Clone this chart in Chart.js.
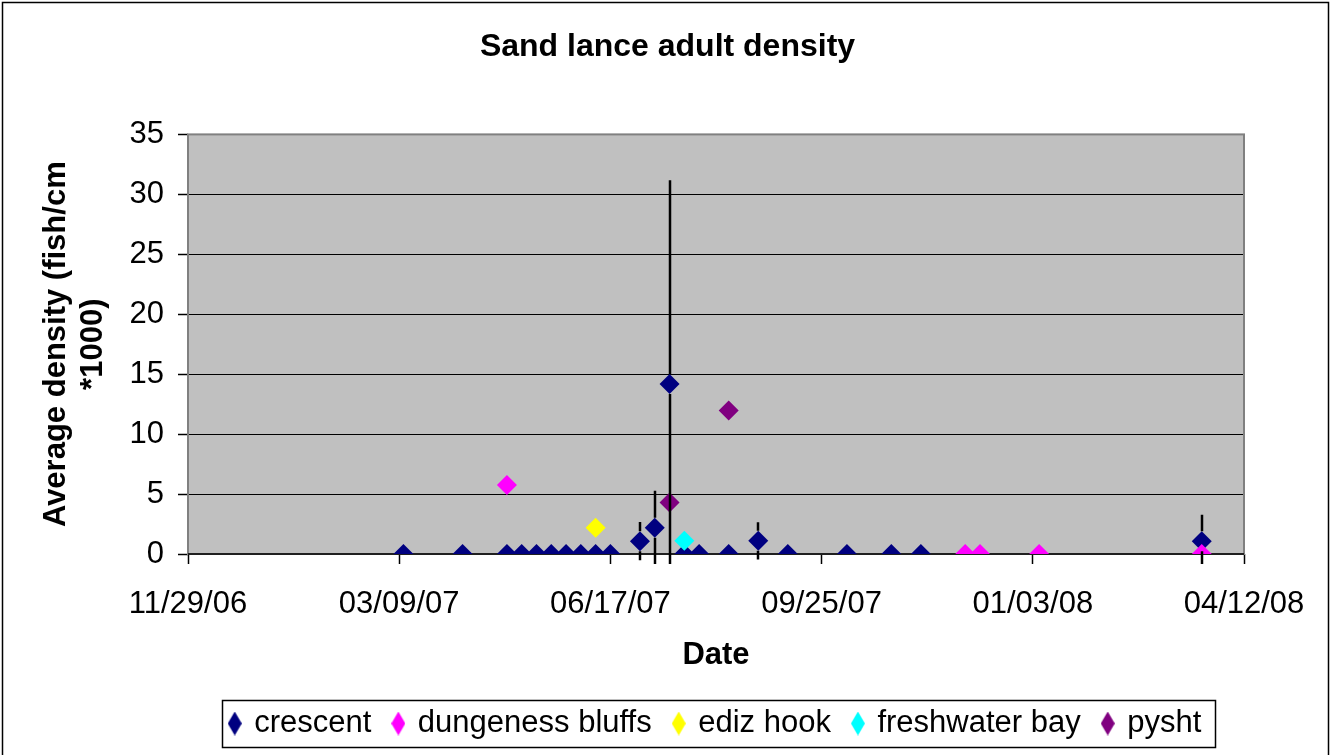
<!DOCTYPE html>
<html>
<head>
<meta charset="utf-8">
<title>Sand lance adult density</title>
<script src="https://cdn.jsdelivr.net/npm/chart.js@4.4.1/dist/chart.umd.min.js"></script>
<style>
    html, body { margin: 0; padding: 0; background: #fff; }
    #wrap { width: 1335px; height: 755px; }
</style>
</head>
<body>
<div id="wrap"><canvas id="myChart" width="1335" height="755"></canvas></div>
<script>
// axis: dates counted in days from the first tick
const startDate = "2006-11-29";
const tickDays = [0, 100, 200, 300, 400, 500];
const yTicks = [0, 5, 10, 15, 20, 25, 30, 35];

const seriesNames = ["crescent", "dungeness bluffs", "ediz hook", "freshwater bay", "pysht"];
const seriesColors = ["#000080", "#ff00ff", "#ffff00", "#00ffff", "#800080"];

const crescentDates = [
    "2007-03-11", "2007-04-08", "2007-04-29", "2007-05-06", "2007-05-13", "2007-05-20",
    "2007-05-27", "2007-06-03", "2007-06-10", "2007-06-17", "2007-07-01", "2007-07-08",
    "2007-07-15", "2007-07-22", "2007-07-29", "2007-08-12", "2007-08-26", "2007-09-09",
    "2007-10-07", "2007-10-28", "2007-11-11", "2008-03-23"
];
const crescentValues = [0, 0, 0, 0, 0, 0, 0, 0, 0, 0, 1.07, 2.18, 14.17, 0, 0, 0, 1.1, 0, 0, 0, 0, 1.07];
const crescentErrors = [0, 0, 0, 0, 0, 0, 0, 0, 0, 0, 1.6, 3.1, 17, 0, 0, 0, 1.55, 0, 0, 0, 0, 2.2];

const dungenessDates = ["2007-04-29", "2007-12-02", "2007-12-09", "2008-01-06", "2008-03-23"];
const dungenessValues = [5.75, 0, 0, 0, 0];

const edizDates = ["2007-06-10"];
const edizValues = [2.18];

const freshwaterDates = ["2007-07-22"];
const freshwaterValues = [1.1];

const pyshtDates = ["2007-07-15", "2007-08-12"];
const pyshtValues = [4.3, 11.97];

const FONT = "'Liberation Sans', Arial, sans-serif";
Chart.defaults.font.family = FONT;
Chart.defaults.color = "#000";

function utcMs(s) {
    const [y, m, d] = s.split("-").map(Number);
    return Date.UTC(y, m - 1, d);
}
const baseMs = utcMs(startDate);
const toDay = (s) => Math.round((utcMs(s) - baseMs) / 86400000);

function pad2(n) {
    return (n < 10 ? "0" : "") + n;
}
function fmtDate(day) {
    const d = new Date(baseMs + day * 86400000);
    return pad2(d.getUTCMonth() + 1) + "/" + pad2(d.getUTCDate()) + "/" + pad2(d.getUTCFullYear() % 100);
}

function points(dates, values) {
    return dates.map((s, i) => ({ x: toDay(s), y: values[i] }));
}

const seriesData = [
    points(crescentDates, crescentValues),
    points(dungenessDates, dungenessValues),
    points(edizDates, edizValues),
    points(freshwaterDates, freshwaterValues),
    points(pyshtDates, pyshtValues),
];

// tall narrow diamond used in the legend
function legendDiamond(color) {
    const c = document.createElement("canvas");
    c.width = 14;
    c.height = 24;
    const g = c.getContext("2d");
    g.fillStyle = color;
    g.beginPath();
    g.moveTo(7, 0);
    g.lineTo(14, 12);
    g.lineTo(7, 24);
    g.lineTo(0, 12);
    g.closePath();
    g.fill();
    return c;
}

const datasets = seriesNames.map((name, i) => ({
    label: name,
    data: seriesData[i],
    backgroundColor: seriesColors[i],
    borderColor: seriesColors[i],
    pointStyle: "rectRot",
    pointRadius: 10,
    pointHoverRadius: 10,
    pointBorderWidth: 0,
    showLine: false,
    order: seriesNames.length - i, // later series drawn on top
}));

// title centred on the page, legend centred under the plot
const layoutShiftPlugin = {
    id: "layoutShift",
    afterLayout(chart) {
        const t = chart.titleBlock;
        t.left = 0;
        t.right = chart.width;
        t.width = chart.width;
        const lg = chart.legend;
        const shift = (chart.chartArea.left + chart.chartArea.right) / 2 - (lg.left + lg.right) / 2;
        lg.left += shift;
        lg.right += shift;
    },
};

// white page, grey plot area, outer frame
const backgroundPlugin = {
    id: "background",
    beforeDraw(chart) {
        const { ctx, chartArea: a } = chart;
        ctx.save();
        ctx.fillStyle = "#fff";
        ctx.fillRect(0, 0, chart.width, chart.height);
        ctx.fillStyle = "#c0c0c0";
        ctx.fillRect(a.left, a.top, a.right - a.left, a.bottom - a.top);
        ctx.restore();
    },
    beforeDatasetsDraw(chart) {
        const { ctx, chartArea: a } = chart;
        ctx.save();
        ctx.strokeStyle = "#808080";
        ctx.lineWidth = 2;
        ctx.strokeRect(a.left, a.top, a.right - a.left, a.bottom - a.top);
        ctx.strokeStyle = "#000";
        ctx.lineWidth = 1.5;
        ctx.beginPath();
        ctx.moveTo(a.left, a.bottom);
        ctx.lineTo(a.right, a.bottom);
        ctx.stroke();
        ctx.restore();
    },
    afterDraw(chart) {
        const ctx = chart.ctx;
        ctx.save();
        ctx.strokeStyle = "#000";
        ctx.lineWidth = 1.5;
        ctx.strokeRect(2.5, 2.5, 1326, 800);
        ctx.restore();
    },
};

// vertical error bars on the crescent series
const errorBarPlugin = {
    id: "errorBars",
    afterDatasetsDraw(chart) {
        const { ctx, chartArea: a, scales } = chart;
        const meta = chart.getDatasetMeta(0);
        ctx.save();
        ctx.beginPath();
        ctx.rect(a.left, a.top, a.right - a.left, a.bottom - a.top + 10);
        ctx.clip();
        ctx.strokeStyle = "#000";
        ctx.lineWidth = 2.5;
        crescentErrors.forEach((err, i) => {
            if (!err) return;
            const pt = meta.data[i];
            const x = Math.round(pt.x);
            const yTop = scales.y.getPixelForValue(crescentValues[i] + err);
            const yBot = scales.y.getPixelForValue(crescentValues[i] - err);
            ctx.beginPath();
            ctx.moveTo(x, yTop);
            ctx.lineTo(x, pt.y - 10);
            ctx.moveTo(x, pt.y + 10);
            ctx.lineTo(x, yBot);
            ctx.stroke();
        });
        ctx.restore();
    },
};

// box around the legend items
const legendBoxPlugin = {
    id: "legendBox",
    afterDraw(chart) {
        const boxes = chart.legend.legendHitBoxes;
        if (!boxes || !boxes.length) return;
        const first = boxes[0];
        const last = boxes[boxes.length - 1];
        const ctx = chart.ctx;
        ctx.save();
        ctx.strokeStyle = "#000";
        ctx.lineWidth = 1.5;
        const left = Math.round(first.left - 9) + 0.5;
        const right = Math.round(last.left + last.width + 14) + 0.5;
        const top = Math.round(first.top - 8) + 0.5;
        const bottom = Math.round(first.top + first.height + 8) + 0.5;
        ctx.strokeRect(left, top, right - left, bottom - top);
        ctx.restore();
    },
};

const ctx = document.getElementById("myChart").getContext("2d");

new Chart(ctx, {
    type: "scatter",
    data: { datasets: datasets },
    options: {
        responsive: false,
        animation: false,
        devicePixelRatio: 1,
        layout: { padding: { left: 0, right: 91, top: 0, bottom: 6 } },
        scales: {
            x: {
                type: "linear",
                min: tickDays[0],
                max: tickDays[tickDays.length - 1],
                afterBuildTicks: (scale) => {
                    scale.ticks = tickDays.map((v) => ({ value: v }));
                },
                afterFit: (scale) => {
                    scale.height = 131;
                },
                ticks: {
                    font: { size: 31 },
                    color: "#000",
                    padding: 22,
                    maxRotation: 0,
                    autoSkip: false,
                    callback: (v) => fmtDate(v),
                },
                grid: {
                    drawOnChartArea: false,
                    drawTicks: true,
                    tickLength: 10,
                    tickColor: "#000",
                    tickWidth: 1.5,
                },
                border: { display: false },
                title: {
                    display: true,
                    text: "Date",
                    font: { size: 31, weight: "bold" },
                    color: "#000",
                    padding: { top: 0, bottom: 11 },
                },
            },
            y: {
                min: yTicks[0],
                max: yTicks[yTicks.length - 1],
                afterBuildTicks: (scale) => {
                    scale.ticks = yTicks.map((v) => ({ value: v }));
                },
                afterFit: (scale) => {
                    scale.width = 188;
                },
                ticks: {
                    font: { size: 31 },
                    color: "#000",
                    padding: 14,
                },
                grid: {
                    color: "#000",
                    lineWidth: 1,
                    tickLength: 10,
                    tickColor: "#000",
                    tickWidth: 1.5,
                },
                border: { display: false },
                title: {
                    display: true,
                    text: ["Average density (fish/cm", "*1000)"],
                    font: { size: 31, weight: "bold" },
                    color: "#000",
                    padding: { top: 38, bottom: 0 },
                },
            },
        },
        plugins: {
            title: {
                display: true,
                text: "Sand lance adult density",
                font: { size: 32, weight: "bold" },
                color: "#000",
                padding: { top: 28, bottom: 68 },
            },
            legend: {
                position: "bottom",
                labels: {
                    font: { size: 31 },
                    color: "#000",
                    usePointStyle: true,
                    pointStyleWidth: 8,
                    padding: 23,
                    sort: (a, b) => a.datasetIndex - b.datasetIndex,
                    generateLabels: (chart) => {
                        const items = Chart.defaults.plugins.legend.labels.generateLabels(chart);
                        return items.map((item) => {
                            item.pointStyle = legendDiamond(seriesColors[item.datasetIndex]);
                            item.lineWidth = 0;
                            return item;
                        });
                    },
                },
            },
            tooltip: { enabled: false },
        },
    },
    plugins: [layoutShiftPlugin, backgroundPlugin, errorBarPlugin, legendBoxPlugin],
});
</script>
</body>
</html>
